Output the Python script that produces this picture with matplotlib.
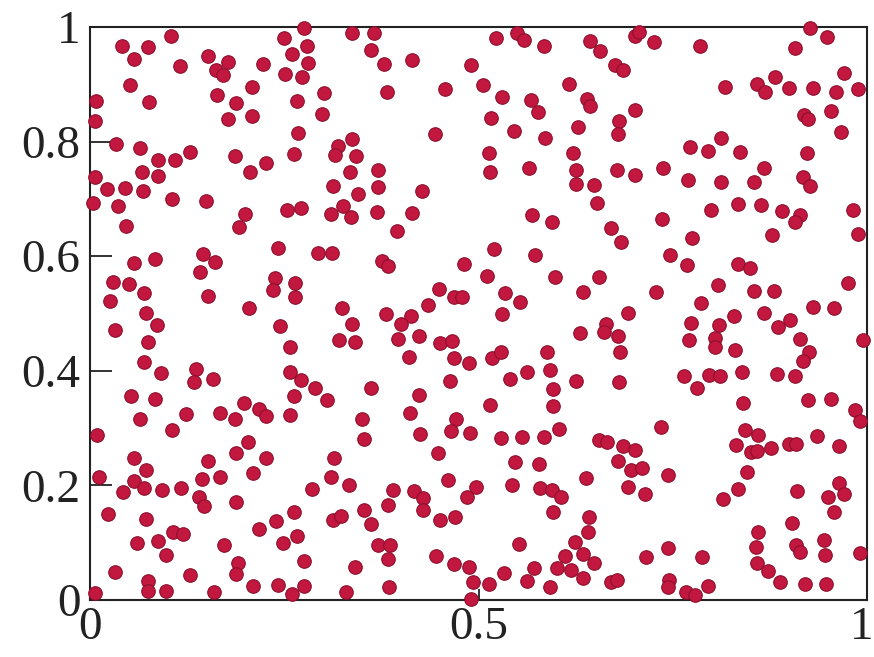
import matplotlib
matplotlib.use("Agg")
import matplotlib.pyplot as plt
import matplotlib.transforms as mtransforms

# point positions, grouped roughly by region (top to bottom)
x_vals = [
    .104, .041, .075, .056, .116, .152, .178, .162, .171, .223, .250, .276, .279, .260, .280, .251, .273, .052, .208, .008,
    .076, .164, .188, .267, .301, .007, .178, .208, .299, .268, .033, .064, .087, .110, .129, .186, .227, .262, .319, .315,
    .337, .366, .362, .378, .414, .382, .457, .490, .523, .549, .558, .584, .644, .656, .506, .530, .568, .577, .616, .639,
    .644, .516, .546, .585, .628, .444, .337, .342, .513, .622,
    .701, .707, .726, .785, .676, .686, .907, .927, .948, .970, .817, .859, .869, .882, .900, .930, .960, .989, .701, .681,
    .680, .919, .924, .954, .967, .772, .795, .812, .837, .923,
    .067, .088, .007, .022, .045, .068, .105, .149, .004, .036, .046, .206, .199, .192, .253, .272, .313, .310, .325, .242,
    .294, .311, .145, .161, .142, .057, .084, .029, .050, .069, .026, .152, .238, .236, .264, .264, .204, .324,
    .335, .370, .515, .565, .625, .370, .345, .427, .336, .369, .414, .395, .625, .648, .652, .569, .595, .520, .573, .376,
    .383, .481, .511, .599, .655, .449, .468, .479, .534, .553, .634, .435,
    .678, .701, .738, .867, .769, .812, .855, .917, .927, .799, .834, .863, .890, .914, .907, .982, .736, .671, .684, .775,
    .878, .988, .746, .768, .834, .849, .729, .808, .855, .880, .786, .975, .931, .957,
    .072, .086, .032, .074, .069, .091, .136, .134, .158, .245, .257, .257, .272, .289, .263, .305, .321, .053, .083, .064,
    .124, .106, .167, .187, .198, .217, .227, .257, .009, .203, .188,
    .381, .413, .400, .337, .423, .397, .341, .410, .451, .466, .468, .488, .517, .529, .530, .588, .592, .562, .541, .596,
    .625, .631, .664, .661, .463, .362, .423, .515, .596, .412, .350, .471, .465, .489, .425, .352, .529, .556, .584, .604,
    .655, .665, .448,
    .692, .829, .868, .901, .886, .774, .809, .771, .804, .805, .830, .914, .925, .917, .680, .682, .995, .681, .764, .781,
    .797, .811, .839, .884, .907, .840, .924, .954, .985, .991, .735, .843, .860, .831, .851, .859, .876, .899, .908, .935,
    .964, .686, .701,
    .056, .152, .227, .314, .011, .072, .057, .069, .144, .167, .210, .042, .093, .117, .140, .147, .188, .286, .310, .023,
    .072, .107, .120, .060, .088, .098, .172, .218, .239, .262, .248, .267, .313, .323, .032, .075, .074, .098, .129, .191,
    .188, .275, .210, .242, .275, .260, .007, .159,
    .547, .578, .333, .461, .390, .417, .429, .428, .383, .352, .362, .451, .470, .485, .497, .543, .579, .594, .606, .596,
    .638, .642, .641, .624, .552, .371, .386, .384, .341, .445, .468, .488, .493, .514, .533, .571, .562, .611, .634, .648,
    .601, .619, .634, .592, .385, .330, .490,
    .680, .696, .710, .744, .692, .714, .846, .834, .815, .910, .964, .970, .950, .958, .903, .860, .857, .908, .914, .945,
    .946, .991, .716, .744, .788, .858, .872, .888, .920, .947, .671, .678, .745, .744, .767, .779, .795,
]
y_vals = [
    .984, .966, .965, .944, .931, .949, .938, .924, .916, .935, .980, .998, .967, .953, .937, .918, .912, .898, .896, .871,
    .869, .881, .867, .871, .884, .835, .839, .845, .848, .814, .796, .788, .768, .767, .781, .774, .763, .778, .792, .777,
    .989, .989, .960, .935, .942, .886, .891, .934, .980, .990, .978, .967, .976, .958, .898, .877, .873, .851, .901, .874,
    .862, .841, .819, .806, .825, .813, .805, .775, .780, .780,
    .985, .991, .974, .967, .934, .925, .964, .999, .982, .920, .896, .900, .886, .912, .894, .894, .886, .892, .855, .835,
    .813, .846, .840, .854, .817, .791, .784, .806, .781, .780,
    .746, .739, .738, .717, .719, .713, .700, .696, .692, .688, .652, .746, .674, .650, .680, .684, .723, .673, .687, .614,
    .606, .605, .604, .589, .572, .588, .595, .554, .552, .536, .522, .531, .561, .540, .553, .528, .509, .509,
    .746, .750, .746, .754, .750, .721, .709, .714, .668, .677, .675, .643, .726, .724, .692, .672, .659, .612, .602, .591,
    .583, .586, .566, .563, .564, .543, .528, .528, .535, .520, .537, .515,
    .750, .741, .753, .753, .732, .730, .730, .738, .723, .680, .691, .689, .678, .671, .659, .680, .665, .649, .624, .632,
    .637, .639, .602, .585, .586, .580, .538, .549, .539, .539, .518, .553, .511, .509,
    .500, .480, .471, .450, .416, .396, .403, .380, .386, .478, .441, .397, .383, .369, .356, .348, .454, .355, .351, .316,
    .325, .297, .327, .315, .343, .333, .321, .322, .287, .275, .256,
    .499, .496, .482, .482, .461, .455, .450, .424, .449, .451, .422, .413, .422, .433, .499, .432, .401, .397, .386, .368,
    .382, .465, .482, .468, .382, .369, .357, .340, .339, .326, .315, .315, .294, .292, .290, .280, .283, .285, .285, .298,
    .279, .275, .256,
    .501, .496, .500, .489, .477, .483, .480, .454, .457, .442, .436, .455, .433, .417, .461, .432, .454, .381, .391, .369,
    .393, .391, .397, .394, .390, .343, .349, .350, .332, .313, .301, .296, .288, .271, .258, .259, .265, .272, .272, .286,
    .268, .269, .262,
    .247, .243, .248, .248, .215, .227, .208, .195, .211, .215, .221, .188, .192, .195, .180, .164, .170, .194, .215, .150,
    .141, .119, .115, .099, .103, .079, .095, .124, .137, .154, .099, .111, .139, .146, .048, .033, .015, .015, .043, .064,
    .045, .067, .025, .026, .025, .010, .012, .013,
    .241, .237, .200, .209, .192, .190, .177, .156, .166, .157, .133, .139, .144, .179, .197, .201, .195, .192, .179, .154,
    .212, .144, .118, .101, .097, .095, .095, .072, .057, .076, .062, .058, .032, .028, .047, .056, .033, .077, .080, .064,
    .055, .052, .038, .023, .022, .013, .002,
    .243, .227, .231, .218, .197, .185, .224, .193, .176, .190, .204, .185, .179, .154, .134, .118, .093, .095, .084, .105,
    .079, .082, .075, .091, .074, .064, .051, .032, .027, .027, .032, .035, .035, .022, .013, .008, .025,
]

x_ticks = [0, 0.5, 1]
x_labels = ["0", "0.5", "1"]
y_ticks = [0, 0.2, 0.4, 0.6, 0.8, 1]
y_labels = ["0", "0.2", "0.4", "0.6", "0.8", "1"]

plt.rcParams['font.family'] = ['Liberation Serif', 'DejaVu Serif']

fig = plt.figure(figsize=(8.74, 6.57), dpi=100)
ax = fig.add_axes([0.103, 0.087, 0.889, 0.872])

ax.scatter(x_vals, y_vals, s=95, c='#C2173E', edgecolors='#8E0F2C',
           linewidths=0.8, clip_on=False, zorder=3)

ax.set_xlim(0, 1)
ax.set_ylim(0, 1)
ax.set_xticks(x_ticks)
ax.set_xticklabels(x_labels)
ax.set_yticks(y_ticks)
ax.set_yticklabels(y_labels)
ax.tick_params(direction='in', length=16, width=1.3, labelsize=34, pad=7, colors='#222222')
ax.tick_params(axis='x', length=8, pad=5)
for s in ax.spines.values():
    s.set_linewidth(1.5)
    s.set_color('#222222')

# the last x label sits at the very edge of the figure; nudge it in a little
last = ax.get_xticklabels()[-1]
last.set_transform(last.get_transform() + mtransforms.ScaledTranslation(-4 / 72, 0, fig.dpi_scale_trans))

fig.savefig("out.png", dpi=100)
